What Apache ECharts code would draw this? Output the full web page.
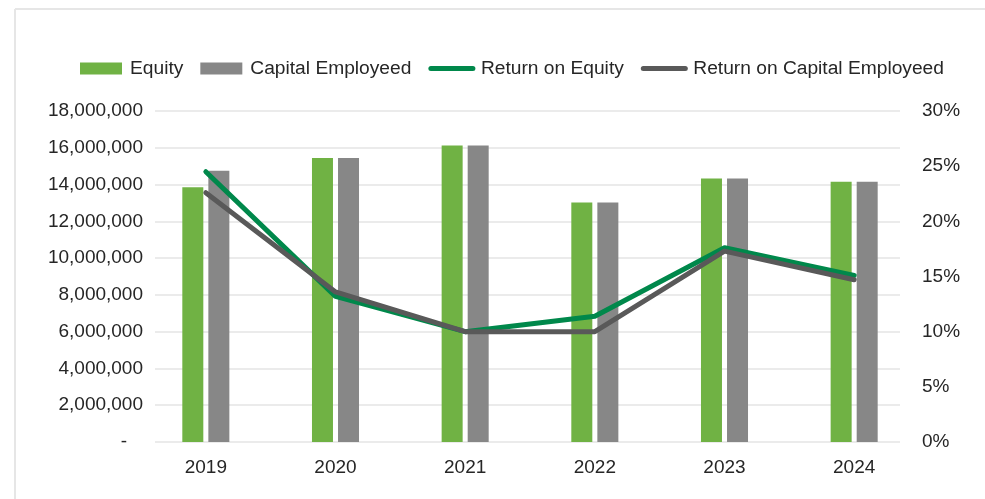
<!DOCTYPE html>
<html>
<head>
<meta charset="utf-8">
<script src="https://cdn.jsdelivr.net/npm/echarts@6/dist/echarts.min.js"></script>
<style>
html,body{margin:0;padding:0;background:#fff;}
#c{width:985px;height:499px;}
</style>
</head>
<body>
<div id="c"></div>
<script>
var categories = ['2019','2020','2021','2022','2023','2024'];
var equity = [13850000, 15450000, 16120000, 13030000, 14330000, 14150000];
var capitalEmployed = [14750000, 15450000, 16120000, 13030000, 14330000, 14150000];
var returnOnEquity = [0.245, 0.132, 0.100, 0.114, 0.176, 0.151];
var returnOnCapital = [0.226, 0.136, 0.100, 0.100, 0.173, 0.147];
var leftTicks = {min: 0, max: 18000000, interval: 2000000};
var rightTicks = {min: 0, max: 0.30, interval: 0.05};

var FONT = '"Liberation Sans", Arial, Helvetica, sans-serif';
var TXT = '#262626';
var chart = echarts.init(document.getElementById('c'), null, {renderer: 'canvas'});

function fmtNum(v){
  if (v === 0) return '-   ';
  return v.toLocaleString('en-US');
}

chart.setOption({
  animation: false,
  backgroundColor: '#ffffff',
  textStyle: {fontFamily: FONT},
  graphic: [
    {type: 'line', shape: {x1: 15, y1: 9, x2: 985, y2: 9}, style: {stroke: '#e6e6e6', lineWidth: 2}, silent: true},
    {type: 'line', shape: {x1: 15, y1: 9, x2: 15, y2: 499}, style: {stroke: '#e6e6e6', lineWidth: 2}, silent: true}
  ],
  legend: {
    left: 75,
    top: 54,
    itemWidth: 42,
    itemHeight: 12,
    itemGap: 17,
    textStyle: {fontFamily: FONT, fontSize: 19.2, color: TXT, padding: [0, 0, 0, 3]},
    data: [
      {name: 'Equity', icon: 'rect'},
      {name: 'Capital Employeed', icon: 'rect'},
      {name: 'Return on Equity', itemStyle: {opacity: 0}, lineStyle: {width: 5, cap: 'round', color: '#00884B'}},
      {name: 'Return on Capital Employeed', itemStyle: {opacity: 0}, lineStyle: {width: 5, cap: 'round', color: '#595959'}}
    ]
  },
  grid: [
    {left: 141, right: 66, top: 111, bottom: 57},
    {left: 155, right: 85, top: 111, bottom: 57}
  ],
  xAxis: [
    {
      type: 'category', gridIndex: 0, data: categories,
      axisLine: {show: false}, axisTick: {show: false},
      axisLabel: {fontFamily: FONT, fontSize: 19, color: TXT, margin: 16}
    },
    {
      type: 'category', gridIndex: 1, data: categories, show: false
    }
  ],
  yAxis: [
    {type: 'value', gridIndex: 0, min: leftTicks.min, max: leftTicks.max, interval: leftTicks.interval, show: false},
    {type: 'value', gridIndex: 0, min: rightTicks.min, max: rightTicks.max, interval: rightTicks.interval, show: false},
    {
      type: 'value', gridIndex: 1, position: 'left',
      min: leftTicks.min, max: leftTicks.max, interval: leftTicks.interval,
      axisLine: {show: false}, axisTick: {show: false},
      axisLabel: {fontFamily: FONT, fontSize: 19, color: TXT, margin: 12, formatter: fmtNum},
      splitLine: {show: true, lineStyle: {color: '#e4e4e4', width: 1.5}}
    },
    {
      type: 'value', gridIndex: 1, position: 'right',
      min: rightTicks.min, max: rightTicks.max, interval: rightTicks.interval,
      axisLine: {show: false}, axisTick: {show: false},
      axisLabel: {fontFamily: FONT, fontSize: 19, color: TXT, margin: 22,
        formatter: function(v){ return Math.round(v*100) + '%'; }},
      splitLine: {show: false}
    }
  ],
  series: [
    {
      name: 'Equity', type: 'bar', xAxisIndex: 0, yAxisIndex: 0,
      data: equity, barWidth: 21, barGap: '24%',
      itemStyle: {color: '#70B244'}
    },
    {
      name: 'Capital Employeed', type: 'bar', xAxisIndex: 0, yAxisIndex: 0,
      data: capitalEmployed, barWidth: 21, barGap: '24%',
      itemStyle: {color: '#878787'}
    },
    {
      name: 'Return on Equity', type: 'line', xAxisIndex: 0, yAxisIndex: 1,
      data: returnOnEquity, symbol: 'none',
      lineStyle: {color: '#00884B', width: 5, cap: 'round', join: 'round'},
      itemStyle: {color: '#00884B'}
    },
    {
      name: 'Return on Capital Employeed', type: 'line', xAxisIndex: 0, yAxisIndex: 1,
      data: returnOnCapital, symbol: 'none',
      lineStyle: {color: '#595959', width: 5, cap: 'round', join: 'round'},
      itemStyle: {color: '#595959'}
    }
  ]
});
</script>
</body>
</html>
